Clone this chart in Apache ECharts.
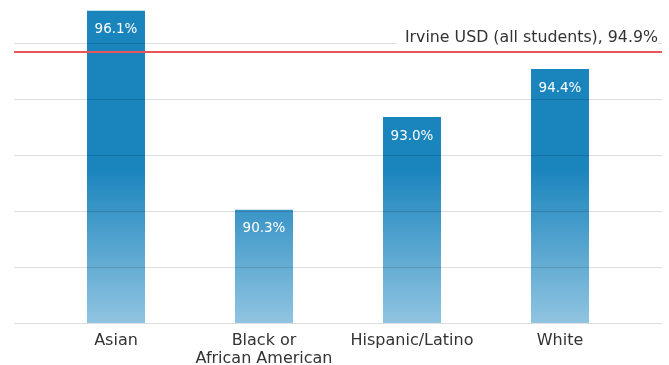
<!DOCTYPE html>
<html>
<head>
<meta charset="utf-8">
<script src="https://cdn.jsdelivr.net/npm/echarts@6/dist/echarts.min.js"></script>
<style>html,body{margin:0;padding:0;background:#fff;}#c{width:669px;height:365px;}</style>
</head>
<body>
<div id="c"></div>
<script>
const categories = ['Asian', 'Black or\nAfrican American', 'Hispanic/Latino', 'White'];
const values = [96.1, 90.3, 93.0, 94.4];
const districtValue = 94.9;
const districtLabel = 'Irvine USD (all students)';

const FONT = 'DejaVu Sans';
const yMin = 87;
const yMaxGrid = 95.16;               // top gridline value
const yInt = (yMaxGrid - yMin) / 5;   // 5 gridline intervals

// layout (pixels)
const plotBottom = 323, plotTop = 43, H = 365;
const pxPerUnit = (plotBottom - plotTop) / (yMaxGrid - yMin);
const yMaxBars = yMin + plotBottom / pxPerUnit;   // bars grid spans from top 0

const chart = echarts.init(document.getElementById('c'));
chart.setOption({
  animation: false,
  backgroundColor: '#fff',
  textStyle: { fontFamily: FONT },
  grid: [
    { left: 14, right: 7, top: plotTop, bottom: H - plotBottom, containLabel: false, outerBoundsMode: 'none' },
    { left: 42, right: 35, top: 0, bottom: H - plotBottom, containLabel: false, outerBoundsMode: 'none' }
  ],
  xAxis: [
    { gridIndex: 0, type: 'value', min: 0, max: 1, show: false },
    {
      gridIndex: 1, type: 'category', data: categories,
      axisLine: { show: false }, axisTick: { show: false },
      axisLabel: { color: '#333', fontSize: 16, fontFamily: FONT, margin: 9, lineHeight: 18, interval: 0 }
    }
  ],
  yAxis: [
    {
      gridIndex: 0, type: 'value', min: yMin, max: yMaxGrid, interval: yInt, z: 5,
      axisLabel: { show: false }, axisLine: { show: false }, axisTick: { show: false },
      splitLine: { show: true, lineStyle: { color: 'rgba(0,0,0,0.13)', width: 1 } }
    },
    {
      gridIndex: 1, type: 'value', min: yMin, max: yMaxBars,
      show: false, splitLine: { show: false }
    }
  ],
  series: [
    {
      // red reference line, drawn beneath the bars
      type: 'scatter', xAxisIndex: 0, yAxisIndex: 0, data: [], z: 1,
      markLine: {
        silent: true, symbol: 'none',
        lineStyle: { color: '#e8545a', width: 2, type: 'solid' },
        label: { show: false },
        data: [{ yAxis: districtValue }]
      }
    },
    {
      // its label, drawn above the gridlines
      type: 'scatter', xAxisIndex: 0, yAxisIndex: 0, data: [], z: 6,
      markLine: {
        silent: true, symbol: 'none',
        lineStyle: { color: 'rgba(255,255,255,0)', width: 2 },
        label: {
          show: true, position: 'insideEndTop', distance: 4,
          formatter: districtLabel + ', ' + districtValue.toFixed(1) + '%',
          color: '#333', fontSize: 15.8, fontFamily: FONT,
          backgroundColor: '#fff', padding: [2, 0, 2, 8]
        },
        data: [{ yAxis: districtValue }]
      }
    },
    {
      type: 'bar', xAxisIndex: 1, yAxisIndex: 1, data: values, barWidth: 58, z: 2,
      itemStyle: {
        color: {
          type: 'linear', x: 0, y: 168, x2: 0, y2: 323, global: true,
          colorStops: [
            { offset: 0, color: '#1a84bd' },
            { offset: 1, color: '#90c4e1' }
          ]
        }
      },
      label: {
        show: true, position: 'insideTop', distance: 12,
        color: '#fff', fontSize: 13.5, fontFamily: FONT,
        formatter: p => p.value.toFixed(1) + '%'
      }
    }
  ]
});
</script>
</body>
</html>
